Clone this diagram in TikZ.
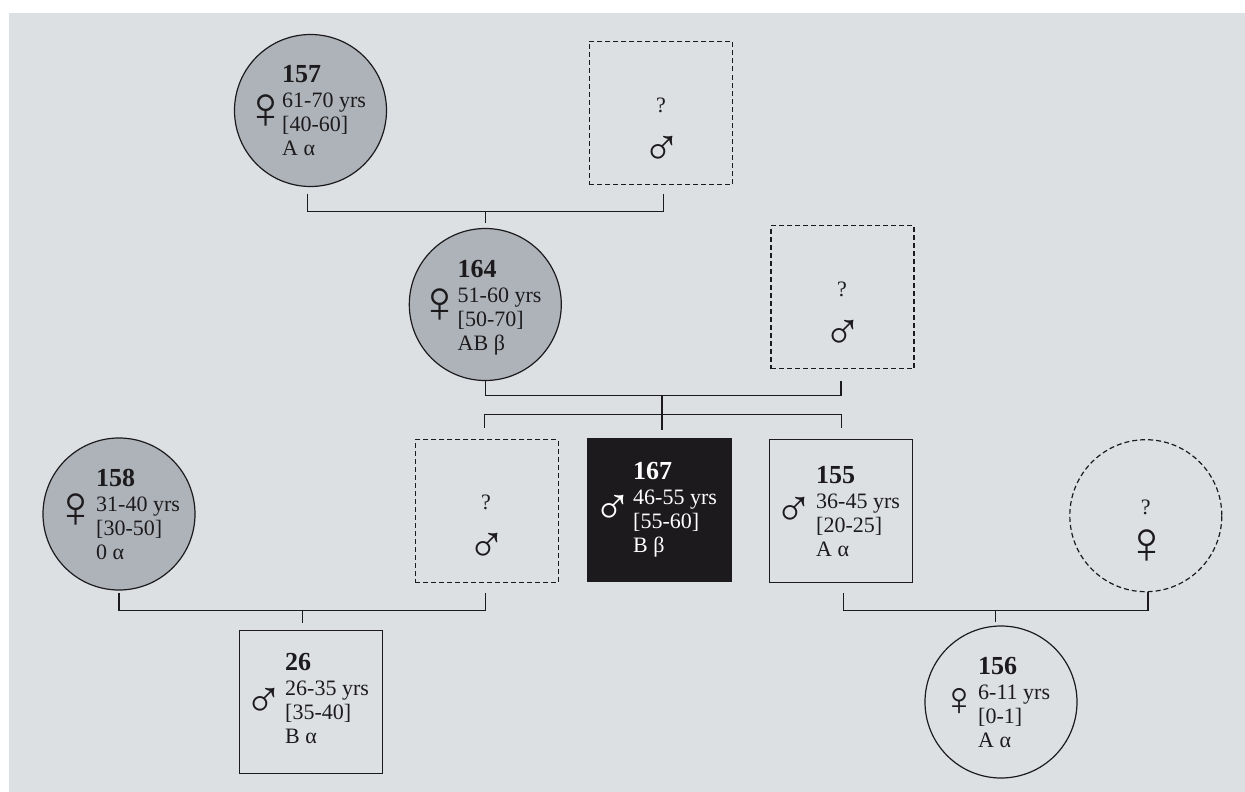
\documentclass[tikz,border=0pt]{standalone}
\usepackage{fontspec}
\setmainfont{Liberation Serif}
\definecolor{panelgrey}{HTML}{DDE0E3}
\definecolor{affected}{HTML}{AEB3B9}
\definecolor{inkblack}{HTML}{1C1A1C}
\tikzset{
  person/.style={draw=inkblack, line width=1.2pt, inner sep=0pt},
  femalep/.style={person, circle, minimum size=152pt},
  malep/.style={person, rectangle, minimum size=143pt},
  unknown/.style={dash pattern=on 5pt off 3pt},
  info/.style={anchor=north west, inner sep=0pt, align=left, text=inkblack,
    font=\fontsize{22}{24}\selectfont},
  sign/.style={inner sep=0pt, text=inkblack, font=\fontsize{60}{60}\selectfont},
  msign/.style={inner sep=0pt, text=inkblack, font=\fontsize{52}{52}\selectfont},
  query/.style={inner sep=0pt, text=inkblack, font=\fontsize{22}{22}\selectfont},
  link/.style={draw=inkblack, line width=1.2pt}
}
\newcommand{\pid}[1]{{\fontsize{26}{24}\selectfont\bfseries #1}}
\begin{document}
\begin{tikzpicture}[x=1pt, y=-1pt]
  \useasboundingbox (0,0) rectangle (1245,792);
  \fill[panelgrey] (9,13) rectangle (1245,792);

  % First generation
  \node[femalep, fill=affected] (p157) at (310.5,110.5) {};
  \node[malep, unknown] (q157) at (660.8,113) {};
  \node[info] (t157) at (282,65) {\pid{157}\\[1pt]61-70 yrs\\{}[40-60]\\A α};
  \node[sign] (s157) at (265.5,111.5) {♀};
  \node[query] (w157) at (661,105) {?};
  \node[msign] (m157) at (661.5,150.5) {♂};

  % Second generation
  \node[femalep, fill=affected] (p164) at (485.3,304.5) {};
  \node[malep, unknown] (q164) at (842.5,297.2) {};
  \node[info] (t164) at (457.5,260) {\pid{164}\\[1pt]51-60 yrs\\{}[50-70]\\AB β};
  \node[sign] (s164) at (440,305.5) {♀};
  \node[query] (w164) at (842,289) {?};
  \node[msign] (m164) at (842.5,334.5) {♂};

  % Third generation
  \node[malep, unknown] (q165) at (486.8,511) {};
  \node[query] (w165) at (486,502) {?};
  \node[msign] (m165) at (487,547.5) {♂};
  \node[malep, fill=inkblack] (p167) at (659.4,509.8) {};
  \node[info, text=white] (t167) at (633,462) {\pid{167}\\[1pt]46-55 yrs\\{}[55-60]\\B β};
  \node[msign, text=white] (s167) at (612.5,509.5) {♂};
  \node[malep] (p155) at (841.2,511) {};
  \node[info] (t155) at (816,466) {\pid{155}\\[1pt]36-45 yrs\\{}[20-25]\\A α};
  \node[msign] (s155) at (794,511.5) {♂};

  % Partners and children
  \node[femalep, fill=affected] (p158) at (119,514) {};
  \node[info] (t158) at (96,469) {\pid{158}\\[1pt]31-40 yrs\\{}[30-50]\\0 α};
  \node[sign] (s158) at (75.5,511) {♀};
  \node[femalep, unknown] (q156) at (1145.8,515.7) {};
  \node[query] (w156) at (1145.7,507) {?};
  \node[sign] (f156) at (1146.5,547) {♀};
  \node[malep] (p26) at (310.7,702) {};
  \node[info] (t26) at (285,653.5) {\pid{26}\\[1pt]26-35 yrs\\{}[35-40]\\B α};
  \node[msign] (s26) at (263.8,702.5) {♂};
  \node[femalep] (p156) at (1001,702) {};
  \node[info] (t156) at (978,657.5) {\pid{156}\\[1pt]6-11 yrs\\{}[0-1]\\A α};
  \node[sign, font=\fontsize{48}{48}\selectfont] (s156) at (959.7,702) {♀};

  % Connectors
  \coordinate (j157) at (485.3,211.5);
  \coordinate (j164) at (662,395.5);
  \coordinate (j167) at (662,414.5);
  \coordinate (j158) at (302.7,610.5);
  \coordinate (j156) at (995.7,610.5);
  \draw[link, shorten <=6.5pt, shorten >=9pt] ([xshift=-3pt]p157.south) |- (j157) -| ([xshift=3pt]q157.south);
  \draw[link, shorten >=4.5pt] (j157) -- (p164.north);
  \draw[link] (p164.south) |- (j164);
  \draw[link, shorten >=11.5pt] (j164) -| ([xshift=-1.5pt]q164.south);
  \draw[link, shorten >=8pt] (j164) -- ([xshift=2.6pt]p167.north);
  \draw[link, shorten <=11pt, shorten >=11pt] ([xshift=-2.3pt]q165.north) |- (j167) -| (p155.north);
  \draw[link, shorten <=2pt, shorten >=9.5pt] (p158.south) |- (j158) -| ([xshift=-1pt]q165.south);
  \draw[link, shorten >=7.4pt] (j158) -- ([xshift=-8pt]p26.north);
  \draw[link, shorten <=10pt] ([xshift=2.5pt]p155.south) |- (j156) -| ([xshift=2.2pt]q156.south);
  \draw[link, shorten >=3pt] (j156) -- ([xshift=-5.3pt]p156.north);
\end{tikzpicture}
\end{document}
